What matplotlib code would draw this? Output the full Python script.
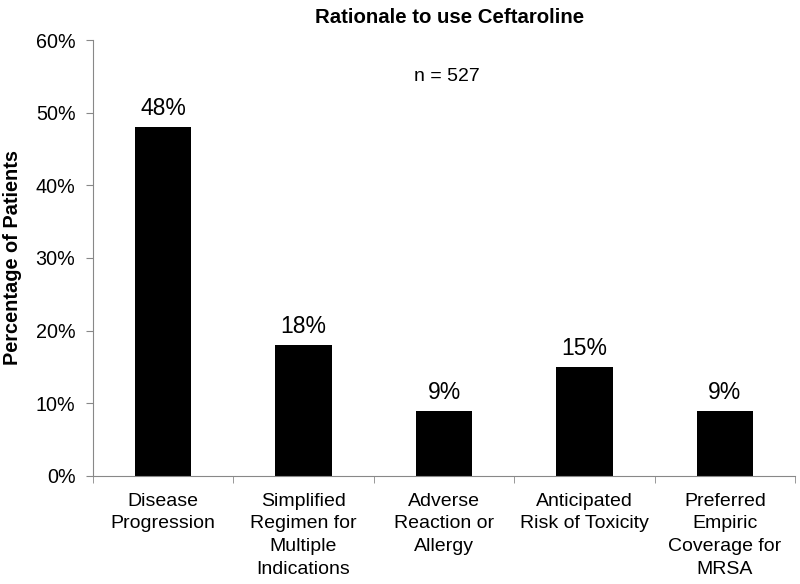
import matplotlib
matplotlib.use("Agg")
import matplotlib.pyplot as plt
from matplotlib.ticker import PercentFormatter, FixedLocator

plt.rcParams['font.family'] = ['Liberation Sans', 'DejaVu Sans']

categories = ["Disease\nProgression",
              "Simplified\nRegimen for\nMultiple\nIndications",
              "Adverse\nReaction or\nAllergy",
              "Anticipated\nRisk of Toxicity",
              "Preferred\nEmpiric\nCoverage for\nMRSA"]
percent = [48, 18, 9, 15, 9]
yticks = [0, 10, 20, 30, 40, 50, 60]

fig = plt.figure(figsize=(8, 5.84), dpi=100)
ax = fig.add_axes([0.116, 0.185, 0.878, 0.7465])

x = range(len(categories))
bars = ax.bar(x, percent, width=0.4, color="black")

for b, v in zip(bars, percent):
    ax.annotate(f"{v}%", (b.get_x() + b.get_width() / 2, v),
                xytext=(0, 5), textcoords="offset points",
                ha="center", va="bottom", fontsize=16.5)

ax.set_xlim(-0.5, len(categories) - 0.5)
ax.set_ylim(0, 60)
ax.set_yticks(yticks)
ax.yaxis.set_major_formatter(PercentFormatter(decimals=0))

# category labels centred, ticks on the boundaries
ax.set_xticks(list(x))
ax.set_xticklabels(categories, fontsize=14, linespacing=1.45)
ax.tick_params(axis="x", which="major", length=0, pad=12)
ax.xaxis.set_minor_locator(FixedLocator([i - 0.5 for i in range(len(categories) + 1)]))
ax.tick_params(axis="x", which="minor", length=5, color="#888888", direction="out")
ax.tick_params(axis="y", length=5, color="#888888", labelsize=14.2, pad=7.5)

for s in ["top", "right"]:
    ax.spines[s].set_visible(False)
for s in ["left", "bottom"]:
    ax.spines[s].set_color("#888888")

ax.set_ylabel("Percentage of Patients", fontsize=14.4, fontweight="bold", labelpad=10)
ax.set_title("Rationale to use Ceftaroline", fontsize=14.7, fontweight="bold", pad=12, x=0.508)
ax.text(2.02, 55, "n = 527", ha="center", va="center", fontsize=14)

fig.savefig("out.png", dpi=100)
